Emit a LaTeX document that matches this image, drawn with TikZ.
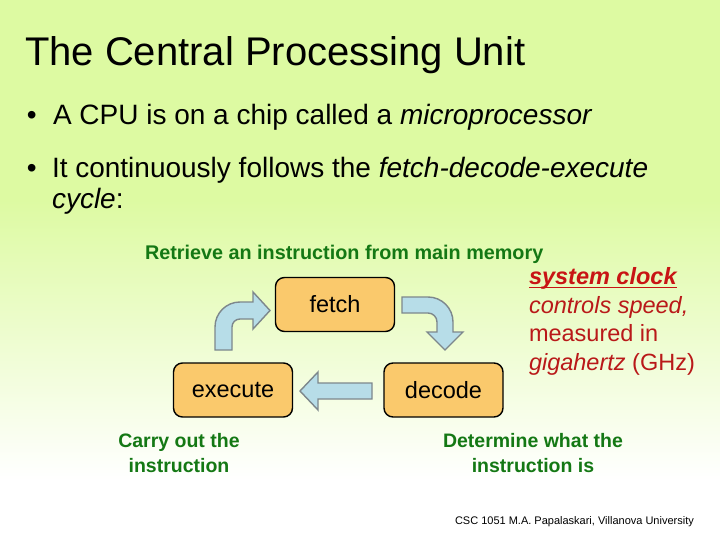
\documentclass[tikz,border=0pt]{standalone}
\usepackage{fontspec}
\setmainfont{Liberation Sans}
\definecolor{bgtop}{RGB}{221,250,162}
\definecolor{boxfill}{RGB}{250,201,108}
\definecolor{arrfill}{RGB}{183,221,232}
\definecolor{arrline}{RGB}{125,135,140}
\definecolor{lblgreen}{RGB}{20,120,20}
\definecolor{clockred}{RGB}{200,20,20}
\definecolor{noteRed}{RGB}{185,25,25}
\tikzset{
  txt/.style={anchor=base west, inner sep=0pt, outer sep=0pt},
  stagebox/.style={draw=black, line width=1.4pt, fill=boxfill, rounded corners=9pt, minimum width=119pt, minimum height=54pt, inner sep=0pt, font=\fontsize{23.5}{26}\selectfont},
  blockarrow/.style={fill=arrfill, draw=arrline, line width=1.4pt, line join=miter},
  greenlbl/.style={anchor=base, inner sep=0pt, text=lblgreen, font=\bfseries\fontsize{19.5}{24}\selectfont}
}
\begin{document}
\begin{tikzpicture}[x=1pt,y=-1pt]
\useasboundingbox (0,0) rectangle (720,540);
% background
\fill[bgtop] (0,0) rectangle (720,200);
\shade[top color=bgtop, bottom color=white] (0,199.5) rectangle (720,480);
\fill[white] (0,479.5) rectangle (720,540);
% title and bullets
\node[txt, font=\fontsize{40}{44}\selectfont] (title) at (25,66) {The Central Processing Unit};
\node[txt, font=\fontsize{28}{32}\selectfont] (b1) at (27,125) {•};
\node[txt, font=\fontsize{28}{32}\selectfont] (t1) at (53,125) {A CPU is on a chip called a \textit{microprocessor}};
\node[txt, font=\fontsize{28}{32}\selectfont] (b2) at (27,178) {•};
\node[txt, font=\fontsize{28}{32}\selectfont] (t2) at (52,178) {It continuously follows the \textit{fetch-decode-execute}};
\node[txt, font=\fontsize{28}{32}\selectfont] (t3) at (52,208) {\textit{cycle}:};
% retrieve label
\node[txt, text=lblgreen, font=\bfseries\fontsize{19.8}{22}\selectfont] (retr) at (145,259) {Retrieve an instruction from main memory};
% boxes
\node[stagebox] (fetch) at (335,304.5) {fetch};
\node[stagebox] (execute) at (233,390) {execute};
\node[stagebox] (decode) at (443.5,390) {decode};
% left bent arrow (execute -> fetch)
\draw[blockarrow] (215,350) -- (215,327) arc[start angle=180, end angle=270, radius=25] -- (253,302) -- (253,292) -- (270,310.5) -- (253,329) -- (253,319) -- (240,319) arc[start angle=270, end angle=180, radius=8] -- (232,350) -- cycle;
% right bent arrow (fetch -> decode)
\draw[blockarrow] (402,297) -- (428,297) arc[start angle=270, end angle=360, radius=25] -- (453,332) -- (463,332) -- (445,350) -- (427,332) -- (437,332) -- (437,322) arc[start angle=0, end angle=-90, radius=9] -- (402,313) -- cycle;
% bottom arrow (decode -> execute)
\draw[blockarrow] (372,383) -- (318,383) -- (318,372) -- (300,391) -- (318,410) -- (318,399) -- (372,399) -- cycle;
% green labels
\node[greenlbl] (carry1) at (179,447) {Carry out the};
\node[greenlbl] (carry2) at (179,472) {instruction};
\node[greenlbl] (det1) at (533,447) {Determine what the};
\node[greenlbl] (det2) at (533,472) {instruction is};
% system clock note
\node[txt, text=clockred, font=\bfseries\itshape\fontsize{23.5}{25}\selectfont] (clk) at (529,284) {system clock};
\draw[clockred, line width=1.7pt] ([yshift=-3.5pt]clk.base west) -- ([yshift=-3.5pt]clk.base east);
\node[txt, text=noteRed, font=\itshape\fontsize{23.5}{25}\selectfont] (n2) at (529,313) {controls speed,};
\node[txt, text=noteRed, font=\fontsize{23.5}{25}\selectfont] (n3) at (529,341) {measured in};
\node[txt, text=noteRed, font=\fontsize{23.5}{25}\selectfont] (n4) at (529,370) {\textit{gigahertz} (GHz)};
% footer
\node[txt, font=\fontsize{11}{13}\selectfont] (footer) at (455,524) {CSC 1051 M.A. Papalaskari, Villanova University};
\end{tikzpicture}
\end{document}
